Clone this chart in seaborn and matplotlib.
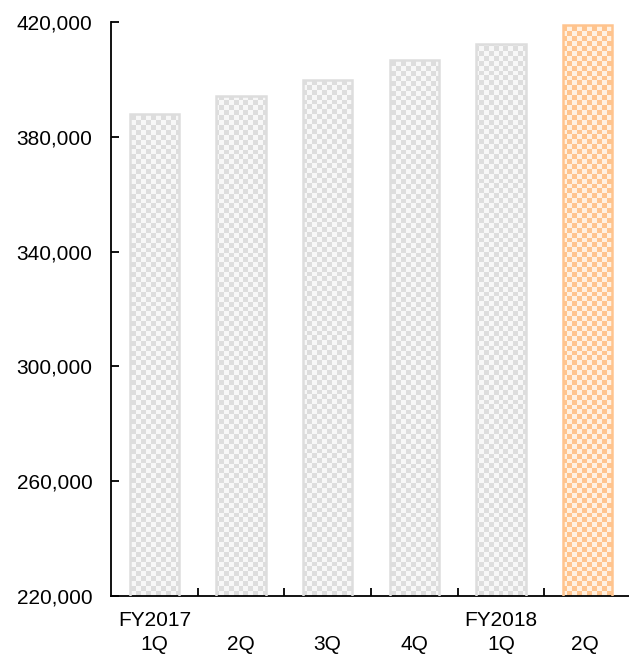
import numpy as np
import pandas as pd
import seaborn as sns
import matplotlib.pyplot as plt

# data
quarters = ["FY2017\n1Q", "\n2Q", "\n3Q", "\n4Q", "FY2018\n1Q", "\n2Q "]
values = [387900, 394200, 399800, 406750, 412500, 418800]
bar_colors = ["#dddddd", "#dddddd", "#dddddd", "#dddddd", "#dddddd", "#ffc48e"]
light_colors = ["#f7f7f7", "#f7f7f7", "#f7f7f7", "#f7f7f7", "#f7f7f7", "#fff1e2"]
yticks = [220000, 260000, 300000, 340000, 380000, 420000]

sns.set_style("white")
plt.rcParams["font.family"] = ["Liberation Sans", "DejaVu Sans"]

df = pd.DataFrame({"quarter": quarters, "value": values})

fig = plt.figure(figsize=(6.29, 6.55), dpi=100)
ax = fig.add_axes([111 / 629, 59 / 655, 520 / 629, 574 / 655])

sns.barplot(data=df, x="quarter", y="value", hue="quarter", palette=bar_colors,
            legend=False, width=0.57, ax=ax)

# checkerboard texture, clipped to each bar
nx, ny = 106, 117
yy, xx = np.mgrid[0:ny, 0:nx]
checker = ((xx + yy) % 2).astype(bool)
for patch, dark, light in zip(ax.patches, bar_colors, light_colors):
    img = np.zeros((ny, nx, 3))
    img[checker] = plt.matplotlib.colors.to_rgb(dark)
    img[~checker] = plt.matplotlib.colors.to_rgb(light)
    patch.set_facecolor("none")
    patch.set_edgecolor(dark)
    patch.set_linewidth(1.8)
    patch.set_zorder(3)
    im = ax.imshow(img, extent=(0, 1, 0, 1), transform=ax.transAxes,
                   interpolation="nearest", aspect="auto", zorder=2)
    im.set_clip_path(patch)

ax.set_ylim(220000, 420000)
ax.set_xlim(-0.5, 5.5)

ax.set_yticks(yticks)
ax.set_yticklabels([f"{v:,}" for v in yticks])
ax.set_xticks(range(len(quarters)))
ax.set_xticklabels(quarters, linespacing=1.3)
ax.set_xticks([0.5, 1.5, 2.5, 3.5, 4.5], minor=True)

ax.tick_params(axis="y", direction="in", length=6, width=1.3, pad=13.5,
               labelsize=15, colors="black", left=True)
ax.tick_params(axis="x", which="major", length=0, pad=11, labelsize=15,
               labelcolor="black")
ax.tick_params(axis="x", which="minor", direction="in", length=6, width=1.3,
               bottom=True, color="black")

ax.set_xlabel("")
ax.set_ylabel("")
sns.despine(ax=ax, top=True, right=True)
ax.spines["left"].set_linewidth(1.3)
ax.spines["bottom"].set_linewidth(1.3)
ax.spines["left"].set_color("black")
ax.spines["bottom"].set_color("black")

fig.savefig("out.png", dpi=100)
